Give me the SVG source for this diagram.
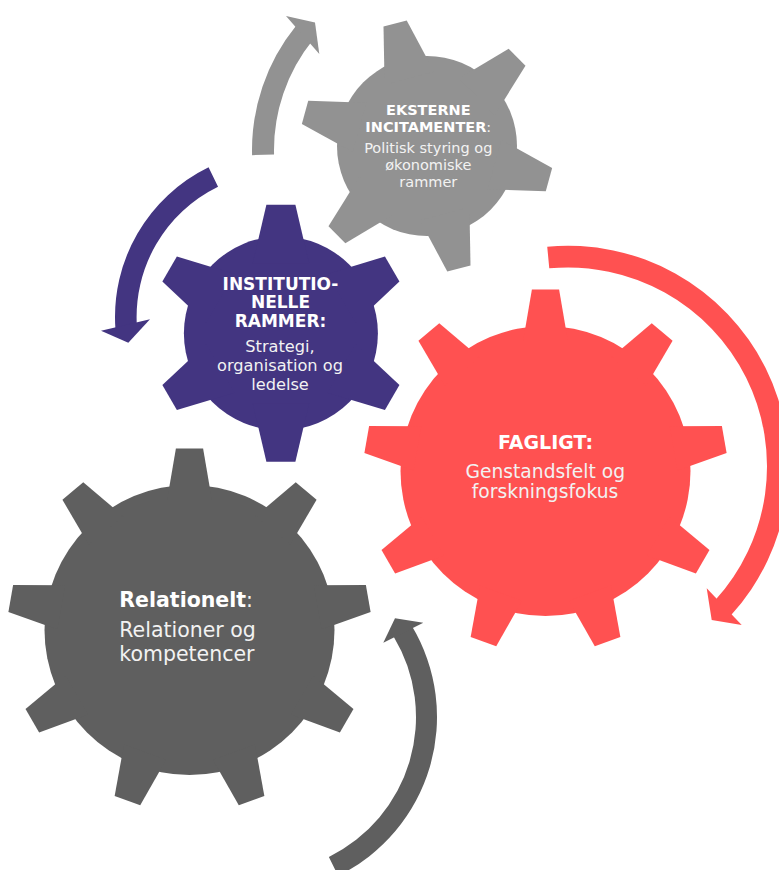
<svg xmlns="http://www.w3.org/2000/svg" xmlns:xlink="http://www.w3.org/1999/xlink" width="779" height="870" viewBox="0 0 779 870">
<style>
  text { font-family: "DejaVu Sans", Verdana, sans-serif; text-anchor: middle; }
  .b { font-weight: bold; fill: #ffffff; }
  .r { font-weight: normal; fill: #f2f2f2; }
  .gray { fill: #929292; }
  .purple { fill: #433581; }
  .red { fill: #ff5151; }
  .dark { fill: #5f5f5f; }
</style>
<defs>
  <polygon id="toothBig" points="-13.6,-181.5 13.6,-181.5 22.4,-130 -22.4,-130"/>
  <polygon id="toothPurple" points="-14.5,-128.5 14.5,-128.5 28.2,-70 -28.2,-70"/>
  <polygon id="toothGray" points="-12,-126.5 12,-126.5 25.6,-70 -25.6,-70"/>
</defs>
<rect width="779" height="870" fill="#ffffff"/>

<g id="gear-eksterne" class="gray">
  <circle cx="427" cy="146" r="90"/>
  <g transform="translate(427,146)">
    <use xlink:href="#toothGray" transform="rotate(-14.6)"/>
    <use xlink:href="#toothGray" transform="rotate(45.4)"/>
    <use xlink:href="#toothGray" transform="rotate(105.4)"/>
    <use xlink:href="#toothGray" transform="rotate(165.4)"/>
    <use xlink:href="#toothGray" transform="rotate(225.4)"/>
    <use xlink:href="#toothGray" transform="rotate(285.4)"/>
  </g>
  <text x="428.3" y="115" class="b" font-size="14.5">EKSTERNE</text>
  <text x="428.3" y="132" class="b" font-size="14.5">INCITAMENTER<tspan class="r">:</tspan></text>
  <text x="428.3" y="152.5" class="r" font-size="14.5">Politisk styring og</text>
  <text x="428.3" y="169.5" class="r" font-size="14.5">økonomiske</text>
  <text x="428.3" y="186.5" class="r" font-size="14.5">rammer</text>
</g>

<g id="gear-institutionelle" class="purple">
  <circle cx="280.9" cy="333.3" r="97"/>
  <g transform="translate(280.9,333.3)">
    <use xlink:href="#toothPurple" transform="rotate(0)"/>
    <use xlink:href="#toothPurple" transform="rotate(60)"/>
    <use xlink:href="#toothPurple" transform="rotate(120)"/>
    <use xlink:href="#toothPurple" transform="rotate(180)"/>
    <use xlink:href="#toothPurple" transform="rotate(240)"/>
    <use xlink:href="#toothPurple" transform="rotate(300)"/>
  </g>
  <text x="280.5" y="290" class="b" font-size="17">INSTITUTIO-</text>
  <text x="280.5" y="308" class="b" font-size="17">NELLE</text>
  <text x="280.5" y="327" class="b" font-size="17">RAMMER:</text>
  <text x="280" y="352" class="r" font-size="16.2">Strategi,</text>
  <text x="280" y="371" class="r" font-size="16.2">organisation og</text>
  <text x="280" y="390" class="r" font-size="16.2">ledelse</text>
</g>

<g id="gear-fagligt" class="red">
  <circle cx="545.5" cy="471" r="145"/>
  <g transform="translate(545.5,471)">
    <use xlink:href="#toothBig" transform="rotate(0)"/>
    <use xlink:href="#toothBig" transform="rotate(40)"/>
    <use xlink:href="#toothBig" transform="rotate(80)"/>
    <use xlink:href="#toothBig" transform="rotate(120)"/>
    <use xlink:href="#toothBig" transform="rotate(160)"/>
    <use xlink:href="#toothBig" transform="rotate(200)"/>
    <use xlink:href="#toothBig" transform="rotate(240)"/>
    <use xlink:href="#toothBig" transform="rotate(280)"/>
    <use xlink:href="#toothBig" transform="rotate(320)"/>
  </g>
  <text x="545.5" y="449" class="b" font-size="19">FAGLIGT:</text>
  <text x="545.3" y="478" class="r" font-size="18.7">Genstandsfelt og</text>
  <text x="545" y="498" class="r" font-size="18.7">forskningsfokus</text>
</g>

<g id="gear-relationelt" class="dark">
  <circle cx="189.5" cy="630" r="145"/>
  <g transform="translate(189.5,630)">
    <use xlink:href="#toothBig" transform="rotate(0)"/>
    <use xlink:href="#toothBig" transform="rotate(40)"/>
    <use xlink:href="#toothBig" transform="rotate(80)"/>
    <use xlink:href="#toothBig" transform="rotate(120)"/>
    <use xlink:href="#toothBig" transform="rotate(160)"/>
    <use xlink:href="#toothBig" transform="rotate(200)"/>
    <use xlink:href="#toothBig" transform="rotate(240)"/>
    <use xlink:href="#toothBig" transform="rotate(280)"/>
    <use xlink:href="#toothBig" transform="rotate(320)"/>
  </g>
  <text x="119.3" y="607" class="b" font-size="20.5" style="text-anchor:start">Relationelt<tspan class="r">:</tspan></text>
  <text x="119.3" y="637.3" class="r" font-size="20.5" style="text-anchor:start">Relationer og</text>
  <text x="119.3" y="660.5" class="r" font-size="20.5" style="text-anchor:start">kompetencer</text>
</g>

<g id="connectors">
  <g id="arrow-gray" class="gray">
    <path d="M252.07,155.16 A197,197 0 0 1 295.90,26.02 L313.00,39.87 A175,175 0 0 0 274.06,154.58 Z"/>
    <polygon points="286,16 315,22.5 319.3,54"/>
  </g>
  <g id="arrow-purple" class="purple">
    <path d="M208.57,167.26 A166.6,166.6 0 0 0 115.41,328.62 L136.95,327.11 A145,145 0 0 1 218.04,186.67 Z"/>
    <polygon points="101,330.7 150,319.3 128.3,342.7"/>
  </g>
  <g id="arrow-red" class="red">
    <path d="M547.23,246.68 A220.7,220.7 0 0 1 730.72,615.50 L714.72,600.84 A199,199 0 0 0 549.27,268.28 Z"/>
    <polygon points="706.7,588.3 741.7,625 711.7,620"/>
  </g>
  <g id="arrow-dark" class="dark">
    <path d="M338.15,875.82 A177,177 0 0 0 411.72,625.84 L393.72,636.65 A156,156 0 0 1 328.88,856.97 Z"/>
    <polygon points="383.3,642.7 423.3,622.7 395,618.3"/>
  </g>
</g>
</svg>
